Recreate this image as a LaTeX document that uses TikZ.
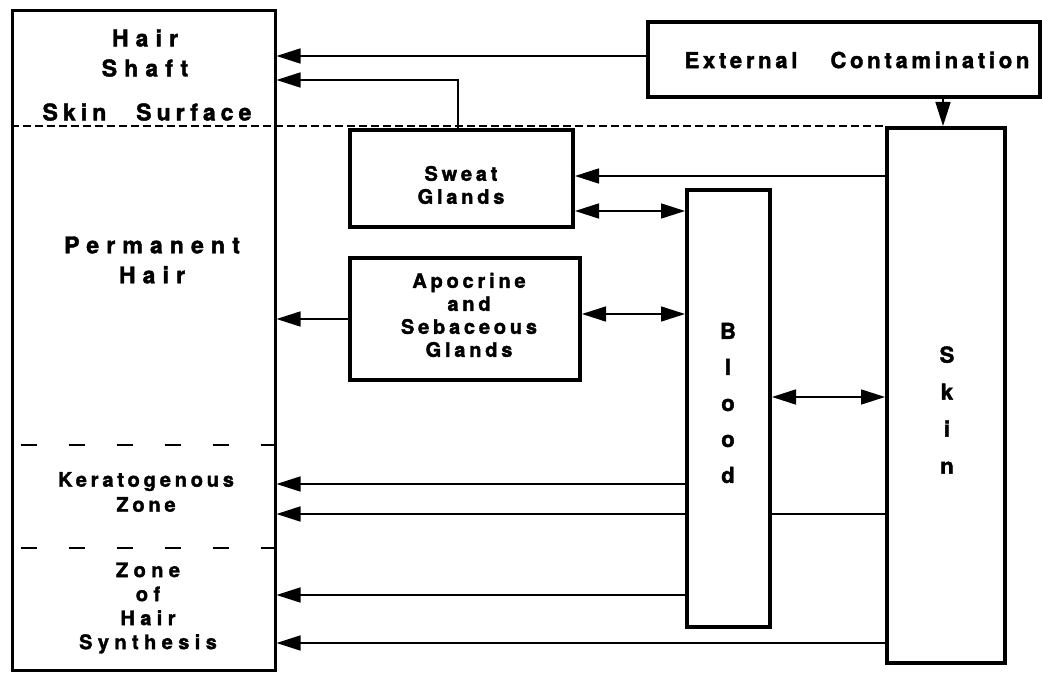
\documentclass[tikz,border=0pt]{standalone}
\usepackage{fontspec}
\newfontfamily\widefont[LetterSpace=31,BoldFeatures={FakeBold=1.8}]{TeX Gyre Heros}
\newfontfamily\bigfont[LetterSpace=17,BoldFeatures={FakeBold=1.8}]{TeX Gyre Heros}
\newfontfamily\surffont[LetterSpace=22,BoldFeatures={FakeBold=1.8}]{TeX Gyre Heros}
\newfontfamily\smallfont[LetterSpace=19,BoldFeatures={FakeBold=1.8}]{TeX Gyre Heros}
\newfontfamily\synthfont[LetterSpace=27,BoldFeatures={FakeBold=1.8}]{TeX Gyre Heros}
\usetikzlibrary{arrows.meta,backgrounds}

\begin{document}
\begin{tikzpicture}[x=0.5pt,y=-0.5pt,>={Triangle[length=12pt,width=7.5pt]},
  box/.style={draw,line width=2pt,fill=white,inner sep=0pt},
  wide/.style={font=\widefont\bfseries\fontsize{11.5}{15}\selectfont,align=center},
  big/.style={font=\bigfont\bfseries\fontsize{11}{15}\selectfont,align=center},
  small/.style={font=\smallfont\bfseries\fontsize{10}{11.5}\selectfont,align=center},
  link/.style={line width=0.8pt}]
  \useasboundingbox (0,0) rectangle (1042,673);
  \node[draw,line width=1.5pt,minimum width=131.5pt,minimum height=329.5pt] (hair) at (143.5,340.5) {};
  \node[box,minimum width=196pt,minimum height=37.5pt] (ext) at (844,59.5) {};
  \node[box,minimum width=59pt,minimum height=267.5pt] (skin) at (946,395.5) {};
  \node[box,minimum width=41.5pt,minimum height=218.5pt] (blood) at (728.5,408.5) {};
  \node[box,minimum width=111.5pt,minimum height=48.5pt] (sweat) at (461.5,178.5) {};
  \node[box,minimum width=115pt,minimum height=61pt] (apoc) at (465,319) {};

  \node[wide] (shaft) at (145,53) {Hair\\Shaft};
  \node[big,font=\surffont\bfseries\fontsize{11.5}{15}\selectfont] (surface) at (147,112) {Skin\hspace{1.3em}Surface};
  \node[wide] (perm) at (152,260) {Permanent\\Hair};
  \node[small,font=\smallfont\bfseries\fontsize{10}{12.5}\selectfont] (kerat) at (146,492) {Keratogenous\\Zone};
  \node[small,font=\synthfont\bfseries\fontsize{10}{12}\selectfont] (synth) at (148,608) {Zone\\of\\Hair\\Synthesis};
  \node[big] (extlbl) at (857,60) {External\hspace{1.5em}Contamination};
  \node[small] (sweatlbl) at (461,185) {Sweat\\Glands};
  \node[small] (apoclbl) at (469,315) {Apocrine\\and\\Sebaceous\\Glands};
  \node[big,font=\bigfont\bfseries\fontsize{11}{18}\selectfont] (bloodlbl) at (728,403) {B\\l\\o\\o\\d};
  \node[big,font=\bigfont\bfseries\fontsize{11}{18.5}\selectfont] (skinlbl) at (947,410) {S\\k\\i\\n};

  \begin{scope}[on background layer]
    \draw[line width=1pt,dash pattern=on 4pt off 2pt] (hair.west |- 0,126) -- (skin.north west);
    \draw[line width=1.2pt,dash pattern=on 8pt off 16pt] ([xshift=5pt]hair.west |- 0,445) -- (hair.east |- 0,445);
    \draw[line width=1.2pt,dash pattern=on 8pt off 16pt] ([xshift=5pt]hair.west |- 0,548) -- (hair.east |- 0,548);
    \draw[->,link] (ext.west |- 0,56) -- (hair.east |- 0,56);
    \draw[->,link] (sweat.north -| 458,0) |- (hair.east |- 0,80);
    \draw[->,link] (ext.south -| 943,0) -- (skin.north -| 943,0);
    \draw[->,link] (skin.west |- 0,176) -- (sweat.east |- 0,176);
    \draw[<->,link] (sweat.east |- 0,211) -- (blood.west |- 0,211);
    \draw[->,link] (apoc.west |- 0,319) -- (hair.east |- 0,319);
    \draw[<->,link] (apoc.east |- 0,314) -- (blood.west |- 0,314);
    \draw[<->,link] (blood.east |- 0,397) -- (skin.west |- 0,397);
    \draw[->,link] (blood.west |- 0,484) -- (hair.east |- 0,484);
    \draw[->,link] (skin.west |- 0,514) -- (hair.east |- 0,514);
    \draw[->,link] (blood.west |- 0,595) -- (hair.east |- 0,595);
    \draw[->,link] (skin.west |- 0,643) -- (hair.east |- 0,643);
  \end{scope}
\end{tikzpicture}
\end{document}
